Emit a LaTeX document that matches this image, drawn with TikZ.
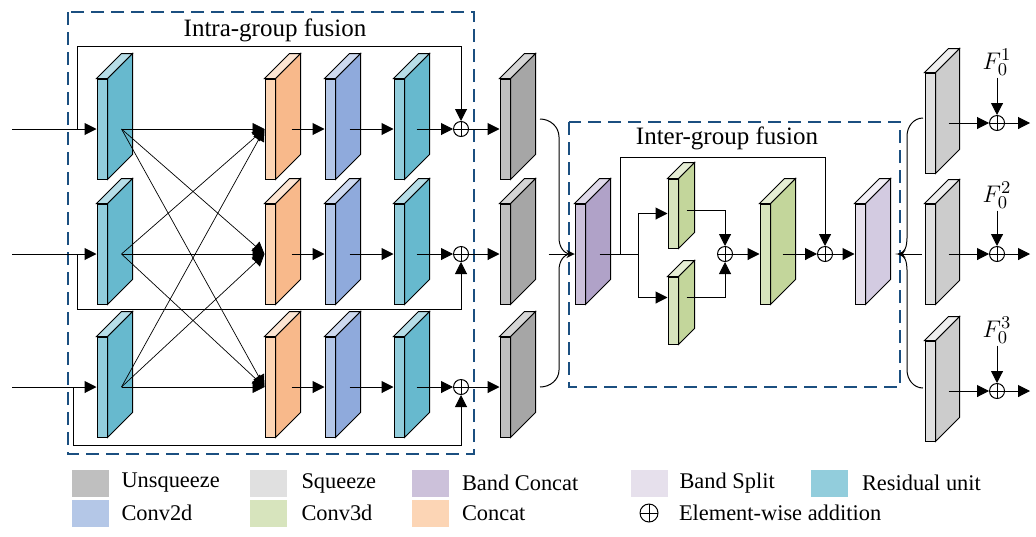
\documentclass[tikz,border=0pt]{standalone}
\usepackage{fontspec}
\setmainfont{Liberation Serif}
\usetikzlibrary{arrows.meta,positioning}
\definecolor{dashblue}{HTML}{1B4F80}
\definecolor{resA}{HTML}{92CDDC}\definecolor{resB}{HTML}{67B9CE}\definecolor{resC}{HTML}{B7DEE8}
\definecolor{catA}{HTML}{FCD5B5}\definecolor{catB}{HTML}{F8B98B}\definecolor{catC}{HTML}{FDE5D2}
\definecolor{cvA}{HTML}{B4C7E7}\definecolor{cvB}{HTML}{8FAADC}\definecolor{cvC}{HTML}{CEDAF0}
\definecolor{unsA}{HTML}{BFBFBF}\definecolor{unsB}{HTML}{A6A6A6}\definecolor{unsC}{HTML}{D6D6D6}
\definecolor{sqA}{HTML}{E0E0E0}\definecolor{sqB}{HTML}{CCCCCC}\definecolor{sqC}{HTML}{EEEEEE}
\definecolor{bcA}{HTML}{CCC1DA}\definecolor{bcB}{HTML}{B0A2C8}\definecolor{bcC}{HTML}{E0DAEA}
\definecolor{tdA}{HTML}{D7E4BD}\definecolor{tdB}{HTML}{C3D69B}\definecolor{tdC}{HTML}{E6EED5}
\definecolor{bsA}{HTML}{E6E0EC}\definecolor{bsB}{HTML}{D3CBE1}\definecolor{bsC}{HTML}{F2EFF6}
\newcommand\slabsides[4]{%
  \filldraw[fill=#3] (#1.north east) -- ++(#2,-#2) -- ([shift={(#2,-#2)}]#1.south east) -- (#1.south east) -- cycle;
  \filldraw[fill=#4] (#1.north west) -- ++(#2,-#2) -- ([shift={(#2,-#2)}]#1.north east) -- (#1.north east) -- cycle;}

\begin{document}
\begin{tikzpicture}[x=0.5pt,y=-0.5pt,line width=0.5pt,>={Triangle[length=6pt,width=6pt]},
	face/.style={draw,inner sep=0pt,minimum width=5pt,minimum height=50pt},
	add/.style={circle,draw,fill=white,inner sep=0pt,minimum size=7.5pt,
		path picture={\draw[line width=0.4pt] (path picture bounding box.north) -- (path picture bounding box.south)
			(path picture bounding box.west) -- (path picture bounding box.east);}},
	dbox/.style={draw=dashblue,line width=1pt,dash pattern=on 6.5pt off 3.5pt},
	tiny/.style={-{Stealth[length=4pt,width=4pt]}},
	swatch/.style={inner sep=0pt,minimum width=18.5pt,minimum height=13.5pt},
	lbl/.style={inner sep=0pt,font=\fontsize{11.2}{13}\selectfont},
	ttl/.style={font=\fontsize{12.5}{15}\selectfont}]
	\useasboundingbox (0,0) rectangle (1036,536);
	
	\draw[dbox] (68,12) rectangle (474,454);
	\node[ttl] (intra) at (275,30) {Intra-group fusion};
	\draw[dbox] (569,122) rectangle (900,387);
	\node[ttl] (inter) at (727,138) {Inter-group fusion};
	
	\foreach \i/\y in {1/129,2/254,3/387} {
		\node[face,fill=resA] (r\i) at (102,\y) {};
		\node[face,fill=catA] (k\i) at (270,\y) {};
		\node[face,fill=cvA] (v\i) at (330,\y) {};
		\node[face,fill=resA] (s\i) at (399,\y) {};
		\node[face,fill=unsA] (u\i) at (505,\y) {};
		\node[add] (a\i) at (461,\y) {};
		\coordinate (in\i) at (12,\y);
		\slabsides{r\i}{25}{resB}{resC}
		\slabsides{k\i}{25}{catB}{catC}
		\slabsides{v\i}{25}{cvB}{cvC}
		\slabsides{s\i}{25}{resB}{resC}
		\slabsides{u\i}{25}{unsB}{unsC}
		\draw[->] (in\i) -- (r\i.west);
		\draw[->] ([xshift=8pt]k\i.east) -- (v\i.west);
		\draw[->] ([xshift=7pt]v\i.east) -- (s\i.west);
		\draw[->] ([xshift=6pt]s\i.east) -- (a\i.west);
		\draw[->] (a\i.east) -- (u\i.west);
	}
	\foreach \i in {1,2,3}
	\foreach \j in {1,2,3}
	\draw[->,line width=0.35pt] ([xshift=7pt]r\i.east) -- (k\j.west);
	\draw[->] ([xshift=-9.5pt]r1.west) -- ++(0,-83) -| (a1.north);
	\draw[->] ([xshift=-9.5pt]r2.west) -- ++(0,55) -| (a2.south);
	\draw[->] ([xshift=-11.5pt]r3.west) -- ++(0,58) -| (a3.south);
	
	\node[face,fill=bcA] (bc) at (580,254) {};
	\node[face,minimum height=34.5pt,fill=tdA] (t1) at (673,213.5) {};
	\node[face,minimum height=33.5pt,fill=tdA] (t2) at (673,310.5) {};
	\node[face,fill=tdA] (t3) at (765,254) {};
	\node[face,fill=bsA] (bs) at (860,254) {};
	\slabsides{bc}{25}{bcB}{bcC}
	\slabsides{t1}{16}{tdB}{tdC}
	\slabsides{t2}{16}{tdB}{tdC}
	\slabsides{t3}{25}{tdB}{tdC}
	\slabsides{bs}{25}{bsB}{bsC}
	\node[add] (a4) at (725,254) {};
	\node[add] (a5) at (825,254) {};
	\coordinate (br) at (638,254);
	\draw ([xshift=7pt]bc.east) -- (br);
	\draw[->] (br) |- (t1.west);
	\draw[->] (br) |- ([yshift=6.5pt]t2.west);
	\draw[->] ([xshift=4pt,yshift=1.5pt]t1.east) -| (a4.north);
	\draw[->] ([xshift=4pt,yshift=6.5pt]t2.east) -| (a4.south);
	\draw[->] (a4.east) -- (t3.west);
	\draw[->] ([xshift=6pt]t3.east) -- (a5.west);
	\draw[->] (a5.east) -- (bs.west);
	\draw[->] ([xshift=17.5pt]bc.east) -- ++(0,-97) -| (a5.north);
	
	\draw (540,119) to[out=0,in=90] (559,137) -- (559,238) to[out=-90,in=180] (571,254)
		to[out=180,in=90] (559,270) -- (559,370) to[out=-90,in=0] (540,387);
	\draw[tiny] ([xshift=19pt]u2.east) -- (bc.west);
	
	\foreach \i/\y/\f in {1/123/62,2/254/195,3/391/330} {
		\node[face,fill=sqA] (q\i) at (930,\y) {};
		\slabsides{q\i}{24}{sqB}{sqC}
		\node[add] (p\i) at (997,\y) {};
		\coordinate (o\i) at (1030,\y);
		\node[inner sep=1pt,font=\fontsize{13}{15}\selectfont] (f\i) at (997,\f) {$F_0^{\i}$};
		\draw[->] ([xshift=6.5pt]q\i.east) -- (p\i.west);
		\draw[->] (p\i.east) -- (o\i);
		\draw[->] (f\i) -- (p\i.north);
	}
	\draw (923,118) to[out=180,in=90] (907,136) -- (907,238) to[out=-90,in=0] (898,254)
		to[out=0,in=90] (907,270) -- (907,370) to[out=-90,in=180] (923,388);
	\draw[tiny] ([xshift=-1.5pt]q2.west) -- ([xshift=16pt]bs.east);
	
	\node[swatch,fill=unsA] (l1) at (90,483) {};
	\node[lbl,right=6pt of l1] (t-l1) {Unsqueeze};
	\node[swatch,fill=sqA] (l2) at (268,483) {};
	\node[lbl,right=7pt of l2] (t-l2) {Squeeze};
	\node[swatch,fill=bcA] (l3) at (430.5,483) {};
	\node[lbl,right=6pt of l3] (t-l3) {Band Concat};
	\node[swatch,fill=bsA] (l4) at (649,483) {};
	\node[lbl,right=5.5pt of l4] (t-l4) {Band Split};
	\node[swatch,fill=resA] (l5) at (829.5,483) {};
	\node[lbl,right=6.5pt of l5] (t-l5) {Residual unit};
	\node[swatch,fill=cvA] (l6) at (90,513) {};
	\node[lbl,right=6pt of l6] (t-l6) {Conv2d};
	\node[swatch,fill=tdA] (l7) at (268,513) {};
	\node[lbl,right=7pt of l7] (t-l7) {Conv3d};
	\node[swatch,fill=catA] (l8) at (430.5,513) {};
	\node[lbl,right=6pt of l8] (t-l8) {Concat};
	\node[add,minimum size=9pt] (l9) at (649,513) {};
	\node[lbl,right=10pt of l9] (t-l9) {Element-wise addition};
\end{tikzpicture}
\end{document}
